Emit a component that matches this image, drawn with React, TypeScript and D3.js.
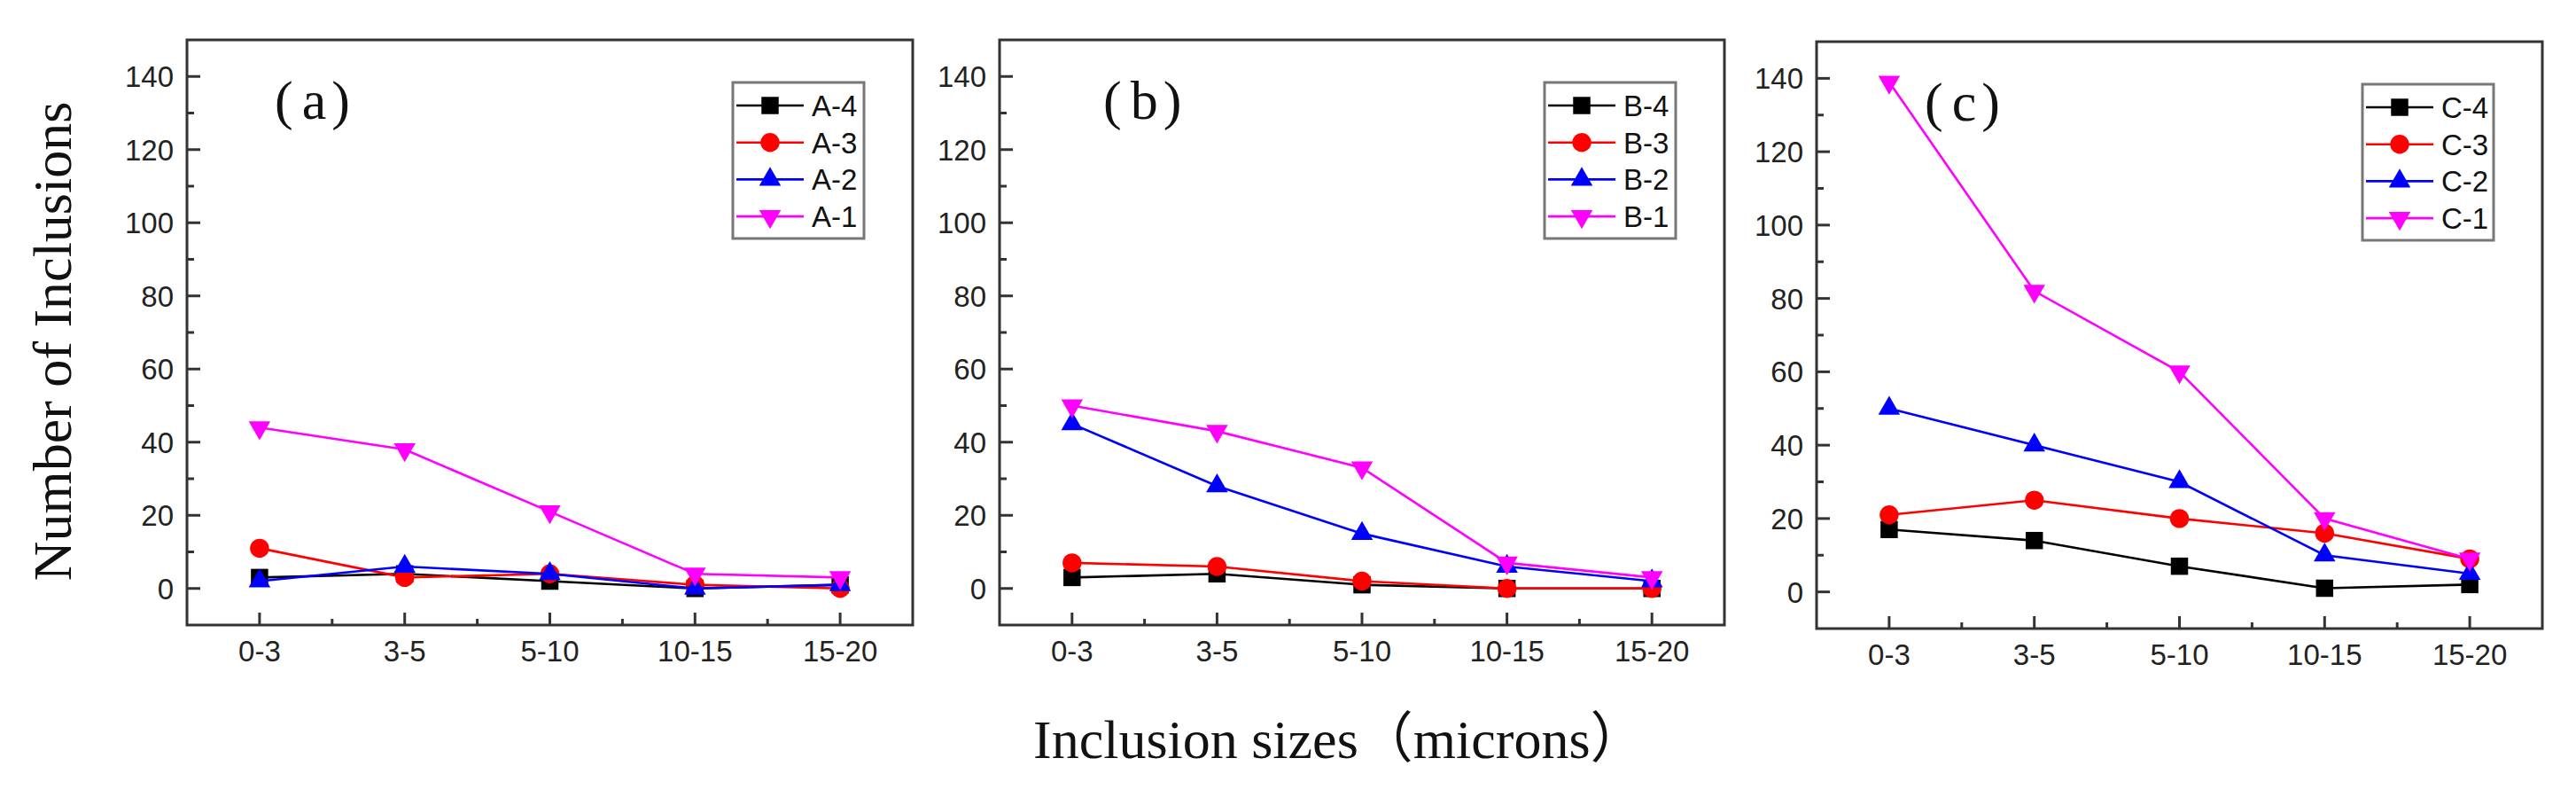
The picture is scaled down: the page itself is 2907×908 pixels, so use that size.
import { useEffect, useRef } from 'react';
import * as d3 from 'd3';

const categories = ['0-3', '3-5', '5-10', '10-15', '15-20'];
const yTicks = [0, 20, 40, 60, 80, 100, 120, 140];
const yMinorTicks = [10, 30, 50, 70, 90, 110, 130];

const seriesStyles = [
  { color: '#000000', symbol: 'square' },
  { color: '#ff0000', symbol: 'circle' },
  { color: '#0000ff', symbol: 'triangle' },
  { color: '#ff00ff', symbol: 'down' }
];

const panelA = ['A-4', 'A-3', 'A-2', 'A-1'];
const valuesA = [
  [3, 4, 2, 0, 1],
  [11, 3, 4, 1, 0],
  [2, 6, 4, 0, 1],
  [44, 38, 21, 4, 3]
];

const panelB = ['B-4', 'B-3', 'B-2', 'B-1'];
const valuesB = [
  [3, 4, 1, 0, 0],
  [7, 6, 2, 0, 0],
  [45, 28, 15, 6, 2],
  [50, 43, 33, 7, 3]
];

const panelC = ['C-4', 'C-3', 'C-2', 'C-1'];
const valuesC = [
  [17, 14, 7, 1, 2],
  [21, 25, 20, 16, 9],
  [50, 40, 30, 10, 5],
  [139, 82, 60, 20, 9]
];

const panels = [
  { tag: 'a', names: panelA, values: valuesA, left: 211, right: 1030, top: 45, bottom: 705, tagX: 99 },
  { tag: 'b', names: panelB, values: valuesB, left: 1128, right: 1946, top: 45, bottom: 705, tagX: 117 },
  { tag: 'c', names: panelC, values: valuesC, left: 2050, right: 2869, top: 47, bottom: 709, tagX: 122 }
];

const W = 2907;
const H = 908;
const sans = '"Liberation Sans", Arial, sans-serif';
const serif = '"Liberation Serif", "Times New Roman", "Noto Sans CJK SC", serif';

function symbolPath(kind: string) {
  if (kind === 'square') return d3.symbol(d3.symbolSquare, 380)();
  if (kind === 'circle') return d3.symbol(d3.symbolCircle, 360)();
  return d3.symbol(d3.symbolTriangle, 260)();
}

export default function App() {
  const svgRef = useRef<SVGSVGElement>(null);

  useEffect(() => {
    const svg = d3.select(svgRef.current);
    svg.selectAll('*').remove();

    svg.append('rect').attr('width', W).attr('height', H).attr('fill', '#fff');

    panels.forEach(p => {
      const g = svg.append('g');
      const x = d3.scaleLinear().domain([0.5, 5.5]).range([p.left, p.right]);
      const y = d3.scaleLinear().domain([-10, 150]).range([p.bottom, p.top]);

      // ticks (inward)
      yTicks.forEach(t => {
        g.append('line')
          .attr('x1', p.left).attr('x2', p.left + 15)
          .attr('y1', y(t)).attr('y2', y(t))
          .attr('stroke', '#333').attr('stroke-width', 3);
        g.append('text')
          .attr('x', p.left - 15).attr('y', y(t))
          .attr('dy', '0.36em')
          .attr('text-anchor', 'end')
          .style('font-family', sans).style('font-size', '33px').style('fill', '#222')
          .text(t);
      });
      yMinorTicks.forEach(t => {
        g.append('line')
          .attr('x1', p.left).attr('x2', p.left + 8)
          .attr('y1', y(t)).attr('y2', y(t))
          .attr('stroke', '#333').attr('stroke-width', 3);
      });
      categories.forEach((c, i) => {
        g.append('line')
          .attr('x1', x(i + 1)).attr('x2', x(i + 1))
          .attr('y1', p.bottom).attr('y2', p.bottom - 14)
          .attr('stroke', '#333').attr('stroke-width', 3);
        if (i < categories.length - 1) {
          g.append('line')
            .attr('x1', x(i + 1.5)).attr('x2', x(i + 1.5))
            .attr('y1', p.bottom).attr('y2', p.bottom - 7)
            .attr('stroke', '#333').attr('stroke-width', 3);
        }
        g.append('text')
          .attr('x', x(i + 1)).attr('y', p.bottom + 41)
          .attr('text-anchor', 'middle')
          .style('font-family', sans).style('font-size', '33px').style('fill', '#222')
          .text(c);
      });

      // series
      const line = d3.line<number>()
        .x((_, i) => x(i + 1))
        .y(d => y(d));

      p.values.forEach((vals, si) => {
        const st = seriesStyles[si];
        g.append('path')
          .attr('d', line(vals))
          .attr('fill', 'none')
          .attr('stroke', st.color)
          .attr('stroke-width', 2.6);
        g.selectAll(null)
          .data(vals)
          .join('path')
          .attr('d', symbolPath(st.symbol))
          .attr('transform', (d, i) =>
            `translate(${x(i + 1)},${y(d)})` + (st.symbol === 'down' ? ' rotate(180)' : ''))
          .attr('fill', st.color);
      });

      // frame
      g.append('rect')
        .attr('x', p.left).attr('y', p.top)
        .attr('width', p.right - p.left).attr('height', p.bottom - p.top)
        .attr('fill', 'none').attr('stroke', '#333').attr('stroke-width', 3);

      // panel tag
      const tag = g.append('text')
        .attr('x', p.left + p.tagX).attr('y', p.top + 89)
        .style('font-family', serif).style('font-size', '62px').style('fill', '#111');
      tag.append('tspan').text('(');
      tag.append('tspan').attr('dx', 10).text(p.tag);
      tag.append('tspan').attr('dx', 6).text(')');

      // legend
      const bx = p.right - 203;
      const by = p.top + 48;
      const lg = g.append('g').attr('transform', `translate(${bx},${by})`);
      lg.append('rect')
        .attr('width', 148).attr('height', 176)
        .attr('fill', '#fff').attr('stroke', '#777').attr('stroke-width', 3);
      p.names.forEach((name, si) => {
        const st = seriesStyles[si];
        const ry = 26 + si * 41.7;
        lg.append('line')
          .attr('x1', 4).attr('x2', 80)
          .attr('y1', ry).attr('y2', ry)
          .attr('stroke', st.color).attr('stroke-width', 2.6);
        lg.append('path')
          .attr('d', symbolPath(st.symbol))
          .attr('transform', `translate(42,${ry})` + (st.symbol === 'down' ? ' rotate(180)' : ''))
          .attr('fill', st.color);
        lg.append('text')
          .attr('x', 89).attr('y', ry)
          .attr('dy', '0.36em')
          .style('font-family', sans).style('font-size', '33px').style('fill', '#111')
          .text(name);
      });
    });

    // axis titles
    svg.append('text')
      .attr('transform', `translate(80,385) rotate(-90)`)
      .attr('text-anchor', 'middle')
      .style('font-family', serif).style('font-size', '62px').style('fill', '#111')
      .text('Number of Inclusions');

    svg.append('text')
      .attr('x', 1166).attr('y', 855)
      .style('font-family', serif).style('font-size', '62px').style('fill', '#111')
      .text('Inclusion sizes（microns）');
  }, []);

  return (
    <svg
      ref={svgRef}
      width={W}
      height={H}
      style={{ position: 'absolute', left: 0, top: 0, display: 'block' }}
    />
  );
}
